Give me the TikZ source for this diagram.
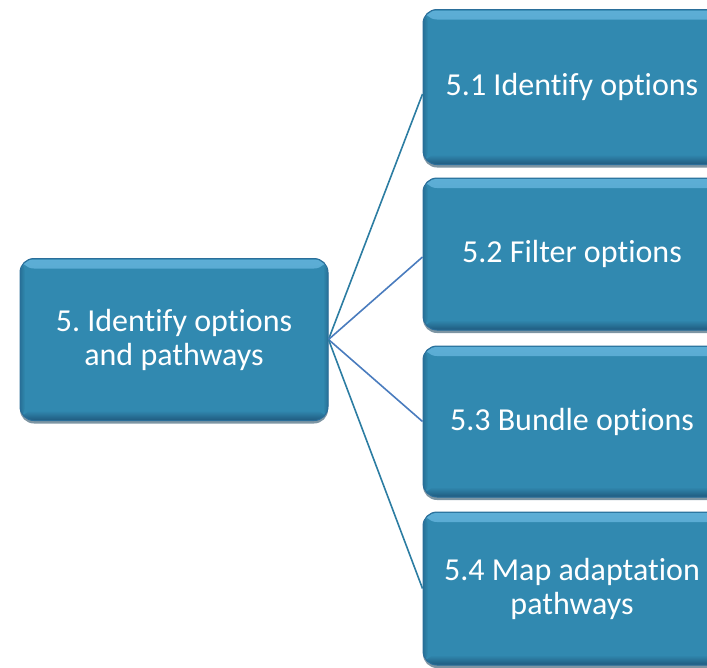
\documentclass[tikz,border=0pt]{standalone}
\usepackage{fontspec}
\setmainfont{Carlito}[Ligatures=NoCommon]
\usetikzlibrary{shadows}
\frenchspacing
\definecolor{boxfill}{HTML}{3189B0}
\definecolor{boxedge}{HTML}{2A6E9A}
\definecolor{boxlight}{HTML}{5DAED6}
\definecolor{boxdark}{HTML}{1F5A7E}
\definecolor{shadowc}{HTML}{274E66}
\definecolor{lineteal}{HTML}{2C7DA2}
\definecolor{lineblue}{HTML}{4A7CBE}
\tikzset{
  bevbox/.style={rectangle, rounded corners=14pt, fill=boxfill, draw=boxedge, line width=1pt,
    text=white, align=center, inner sep=0pt,
    font=\fontsize{32}{34}\selectfont\frenchspacing,
    path picture={
      \shade[top color=boxlight, bottom color=boxfill]
        ([yshift=-1pt]path picture bounding box.north west) rectangle ([yshift=-10pt]path picture bounding box.north east);
      \shade[top color=boxfill, bottom color=boxdark]
        ([yshift=10pt]path picture bounding box.south west) rectangle (path picture bounding box.south east);
      \shade[left color=boxdark, right color=boxfill, opacity=0.5]
        (path picture bounding box.south west) rectangle ([xshift=5pt]path picture bounding box.north west);
      \shade[left color=boxfill, right color=boxdark, opacity=0.5]
        ([xshift=-5pt]path picture bounding box.south east) rectangle (path picture bounding box.north east);
    },
    drop shadow={shadow xshift=0pt, shadow yshift=-3pt, fill=shadowc, opacity=0.6}},
  conn/.style={line width=1.6pt}
}
\begin{document}
\begin{tikzpicture}[x=1pt,y=-1pt]
\useasboundingbox (0,0) rectangle (707,667);
\clip (0,0) rectangle (707,667);
\node[bevbox, minimum width=308pt, minimum height=162pt] (main) at (174,339.5) {5. Identify options\\and pathways};
\node[bevbox, minimum width=298pt, minimum height=155pt] (b1) at (572,87) {5.1 Identify options};
\node[bevbox, minimum width=298pt, minimum height=152pt] (b2) at (572,254) {5.2 Filter options};
\node[bevbox, minimum width=298pt, minimum height=151pt] (b3) at (572,421.5) {5.3 Bundle options};
\node[bevbox, minimum width=298pt, minimum height=153pt] (b4) at (572,588.5) {5.4 Map adaptation\\pathways};
\coordinate (o) at (main.east);
\draw[conn, lineteal] (o) -- ([yshift=-7pt]b1.west);
\draw[conn, lineblue] (o) -- ([yshift=-3pt]b2.west);
\draw[conn, lineblue] (o) -- (b3.west);
\draw[conn, lineteal] (o) -- (b4.west);
\end{tikzpicture}
\end{document}
